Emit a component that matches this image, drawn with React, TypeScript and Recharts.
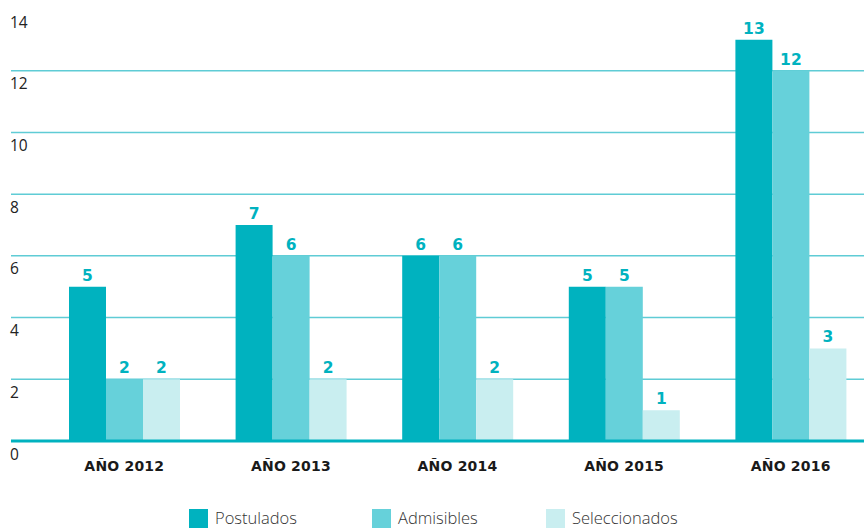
import { BarChart, Bar, XAxis, YAxis, CartesianGrid, ReferenceLine, LabelList, Legend } from "recharts";

const years = ["AÑO 2012", "AÑO 2013", "AÑO 2014", "AÑO 2015", "AÑO 2016"];
const postulados = [5, 7, 6, 5, 13];
const admisibles = [2, 6, 6, 5, 12];
const seleccionados = [2, 2, 2, 1, 3];
const yTicks = [0, 2, 4, 6, 8, 10, 12, 14];
const gridValues = [2, 4, 6, 8, 10, 12];

const series = [
  { key: "postulados", name: "Postulados", color: "#00b2bf" },
  { key: "admisibles", name: "Admisibles", color: "#66d1da" },
  { key: "seleccionados", name: "Seleccionados", color: "#c9eef0" },
];

const data = years.map((year, i) => ({
  year,
  postulados: postulados[i],
  admisibles: admisibles[i],
  seleccionados: seleccionados[i],
}));

const YTick = ({ y, payload }: any) => (
  <text x={10} y={y + 12.5} dominantBaseline="central" fontSize={15.5} fontFamily="Open Sans" fill="#222">
    {payload.value}
  </text>
);

const XTick = ({ x, y, payload }: any) => (
  <text x={x} y={y + 17} textAnchor="middle" dominantBaseline="central" fontSize={14} fontWeight="bold"
    fontFamily="DejaVu Sans" fill="#1a1a1a" letterSpacing={0.2}>
    {payload.value}
  </text>
);

const legendLeft = [189, 372, 546];

const LegendContent = () => (
  <div style={{ position: "relative", width: 874, height: 47 }}>
    {series.map((s, i) => (
      <div key={s.key} style={{ position: "absolute", left: legendLeft[i], top: 27, height: 20, display: "flex", alignItems: "center" }}>
        <span style={{ width: 19, height: 19, background: s.color, display: "inline-block" }} />
        <span style={{ marginLeft: 7, fontFamily: "Open Sans", fontSize: 16.5, lineHeight: "18px", fontWeight: 300, color: "#333" }}>{s.name}</span>
      </div>
    ))}
  </div>
);

const App = () => (
  <div style={{ position: "absolute", left: 0, top: 0, width: 864, height: 528, overflow: "hidden", background: "#fff" }}>
    <BarChart width={874} height={528} data={data} margin={{ top: 9, right: 0, left: 0, bottom: 0 }}
      barCategoryGap={28} barGap={0}>
      <CartesianGrid vertical={false} horizontalValues={gridValues} stroke="#5fccd5" strokeWidth={1.5} />
      <XAxis dataKey="year" height={40} axisLine={false} tickLine={false} tick={<XTick />} padding={{ left: 30, right: 0 }} />
      <YAxis width={11} domain={[0, 14]} ticks={yTicks} interval={0} axisLine={false} tickLine={false} tick={<YTick />} />
      <Legend verticalAlign="bottom" height={47} content={<LegendContent />} wrapperStyle={{ left: 0, bottom: 0, width: 874 }} />
      {series.map((s) => (
        <Bar key={s.key} dataKey={s.key} name={s.name} fill={s.color} isAnimationActive={false}>
          <LabelList dataKey={s.key} position="top" offset={6} fill="#00b2bf" fontSize={15.5} fontWeight="bold" fontFamily="DejaVu Sans" />
        </Bar>
      ))}
      <ReferenceLine y={0} stroke="#00b2bf" strokeWidth={3} />
    </BarChart>
  </div>
);

export default App;
